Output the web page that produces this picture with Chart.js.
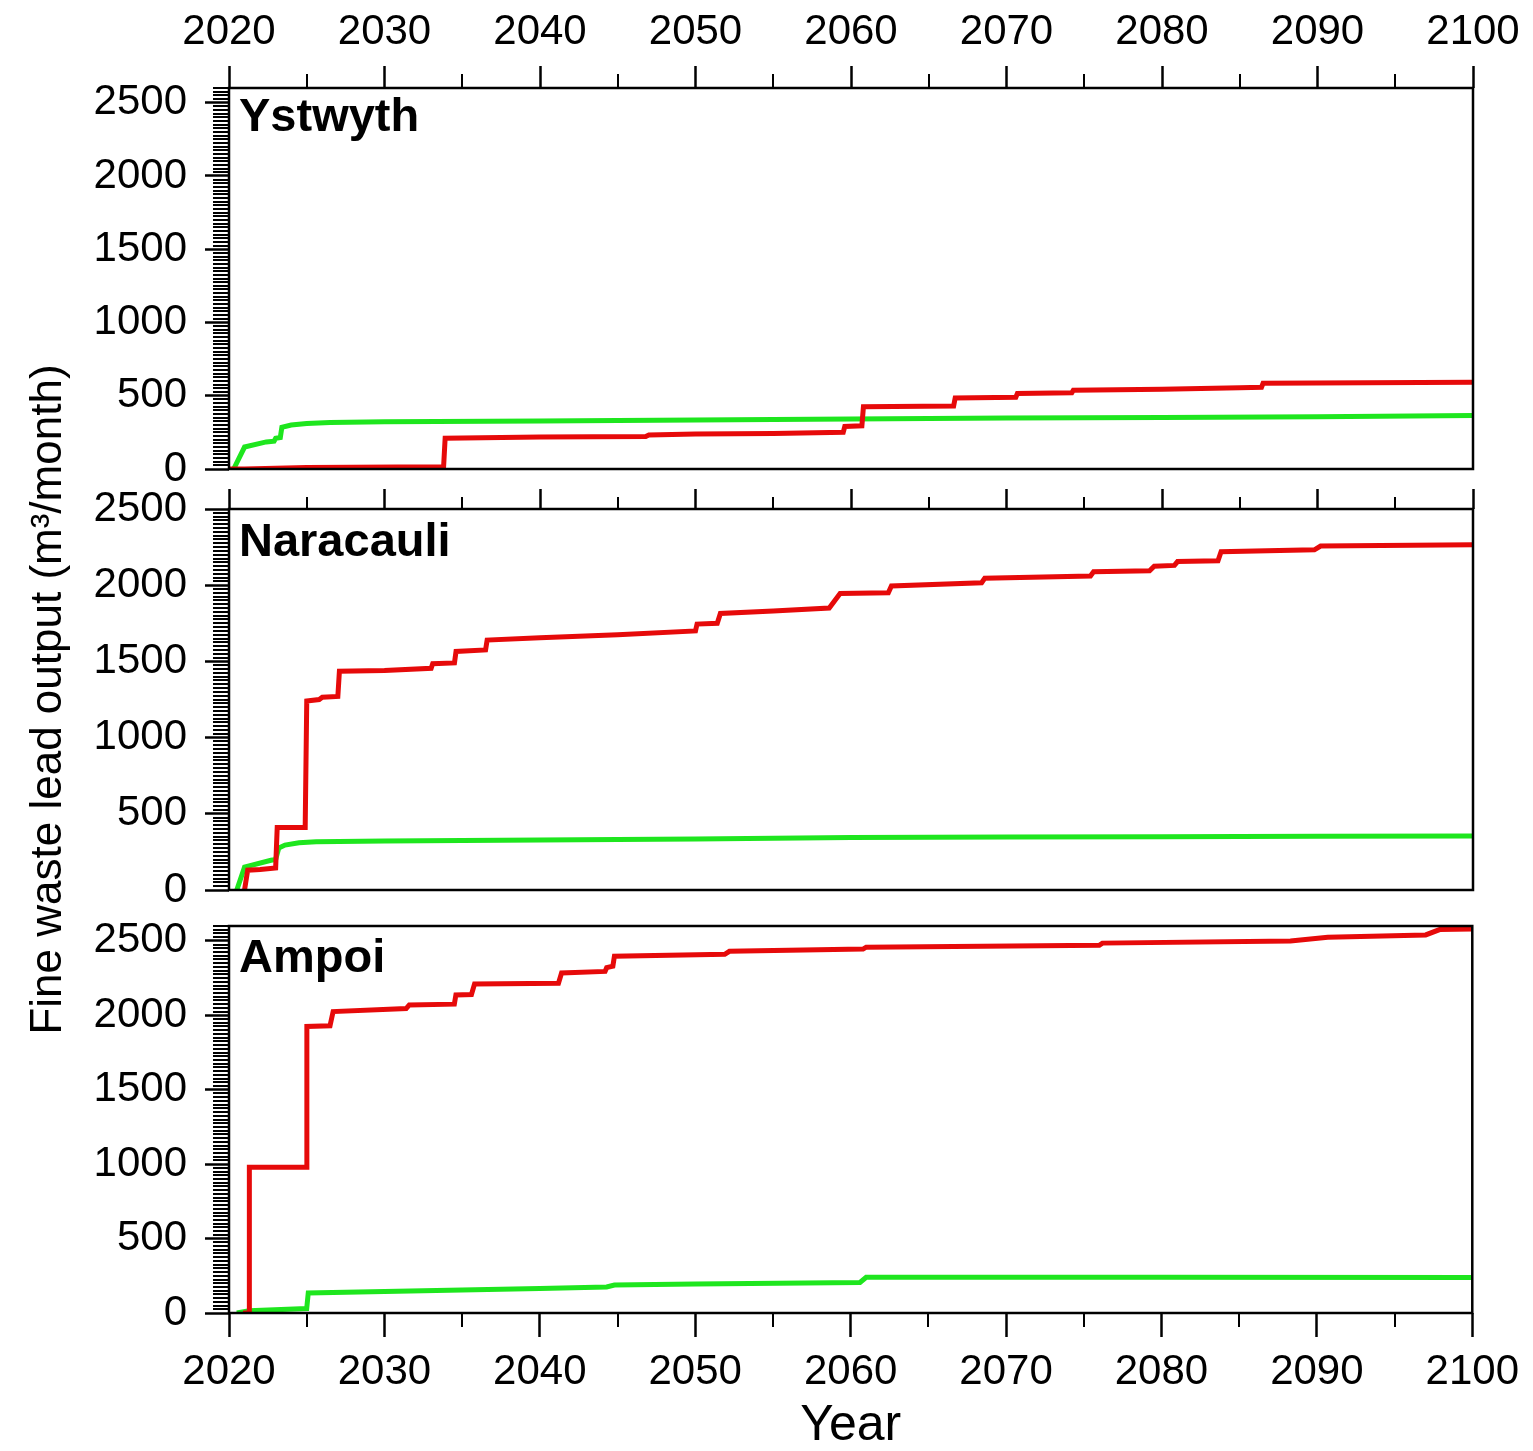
<!DOCTYPE html>
<html><head><meta charset="utf-8">
<script src="https://cdn.jsdelivr.net/npm/chart.js@4.4.1/dist/chart.umd.min.js"></script>
<style>
html,body{margin:0;padding:0;background:#fff;}
#wrap{position:relative;width:1533px;height:1451px;background:#fff;overflow:hidden;}
canvas{position:absolute;left:0;}
</style></head><body>
<div id="wrap">
<canvas id="c1" width="1533" height="520" style="top:0px"></canvas>
<canvas id="c3" width="1533" height="591" style="top:860px"></canvas>
<canvas id="c2" width="1533" height="800" style="top:300px"></canvas>
</div>
<script>
// ---------- tick labels & categories ----------
const panelNames = ['Ystwyth', 'Naracauli', 'Ampoi'];
const xTickValues = [2020, 2030, 2040, 2050, 2060, 2070, 2080, 2090, 2100];
const xTickLabels = ['2020', '2030', '2040', '2050', '2060', '2070', '2080', '2090', '2100'];
const yTickValues = [0, 500, 1000, 1500, 2000, 2500];
const yTickLabels = ['0', '500', '1000', '1500', '2000', '2500'];
const yMaxima = [2600, 2500, 2600];
const yAxisTitle = 'Fine waste lead output (m\u00B3/month)';
const xAxisTitle = 'Year';

// ---------- series (year, value) ----------
const ystwythRedYears  = [2020.0, 2021.0, 2023.0, 2025.0, 2033.8, 2033.9, 2040.0, 2046.8, 2047.0, 2050.0, 2055.0, 2059.5, 2059.6, 2060.7, 2060.8, 2066.6, 2066.7, 2070.6, 2070.7, 2074.2, 2074.3, 2080.0, 2085.0, 2086.4, 2086.5, 2100.0];
const ystwythRedValues = [0, 0, 5, 10, 15, 210, 218, 222, 232, 238, 243, 250, 290, 295, 425, 430, 484, 490, 515, 520, 538, 545, 555, 558, 585, 592];
const ystwythGreenYears  = [2020.3, 2021.0, 2022.4, 2022.9, 2023.0, 2023.3, 2023.4, 2024.0, 2025.0, 2026.5, 2030.0, 2040.0, 2050.0, 2060.0, 2070.0, 2080.0, 2090.0, 2100.0];
const ystwythGreenValues = [0, 150, 185, 190, 210, 215, 285, 300, 310, 318, 322, 328, 335, 342, 348, 352, 357, 365];

const naracauliRedYears  = [2021.0, 2021.2, 2022.0, 2023.0, 2023.1, 2024.9, 2025.0, 2025.8, 2026.0, 2027.0, 2027.1, 2030.0, 2033.0, 2033.1, 2034.5, 2034.6, 2036.5, 2036.6, 2040.0, 2045.0, 2050.0, 2050.1, 2051.4, 2051.6, 2055.0, 2058.6, 2059.3, 2062.4, 2062.6, 2068.4, 2068.6, 2075.4, 2075.6, 2079.2, 2079.5, 2080.8, 2081.0, 2083.6, 2083.8, 2089.8, 2090.2, 2100.0];
const naracauliRedValues = [0, 130, 135, 145, 410, 410, 1240, 1250, 1265, 1270, 1435, 1440, 1455, 1485, 1490, 1565, 1575, 1640, 1655, 1675, 1700, 1745, 1750, 1815, 1830, 1850, 1945, 1950, 1995, 2016, 2045, 2060, 2088, 2095, 2125, 2130, 2155, 2160, 2220, 2232, 2257, 2265];
const naracauliGreenYears  = [2020.5, 2021.0, 2022.7, 2023.0, 2023.2, 2023.6, 2024.5, 2025.6, 2030.0, 2040.0, 2050.0, 2060.0, 2070.0, 2080.0, 2090.0, 2100.0];
const naracauliGreenValues = [0, 150, 195, 200, 275, 295, 310, 317, 322, 328, 335, 345, 348, 350, 353, 355];

const ampoiRedYears  = [2020.9, 2021.3, 2021.31, 2025.0, 2025.01, 2026.5, 2026.7, 2031.4, 2031.6, 2034.5, 2034.6, 2035.6, 2035.8, 2041.2, 2041.4, 2044.2, 2044.3, 2044.7, 2044.8, 2051.9, 2052.2, 2060.8, 2061.0, 2076.0, 2076.2, 2088.3, 2090.7, 2097.0, 2097.9, 2100.0];
const ampoiRedValues = [0, 0, 980, 980, 1925, 1930, 2025, 2045, 2070, 2075, 2137, 2140, 2210, 2215, 2284, 2295, 2320, 2330, 2397, 2410, 2430, 2445, 2458, 2470, 2485, 2500, 2525, 2540, 2576, 2580];
const ampoiGreenYears  = [2020.5, 2021.3, 2025.0, 2025.1, 2030.0, 2040.0, 2044.3, 2044.8, 2050.0, 2060.6, 2061.0, 2080.0, 2100.0];
const ampoiGreenValues = [0, 15, 30, 135, 145, 165, 175, 188, 195, 205, 240, 240, 238];

// ---------- styling ----------
const FONT = '"Liberation Sans", Arial, Helvetica, sans-serif';
const RED = '#e60a0a';
const GREEN = '#1ee61e';

function pts(xs, ys) { return xs.map((x, i) => ({ x: x, y: ys[i] })); }

const framePlugin = {
  id: 'frame',
  afterDatasetsDraw(chart, args, o) {
    const ctx = chart.ctx, a = chart.chartArea;
    const xs = chart.scales.x, ys = chart.scales.y;
    ctx.save();
    ctx.strokeStyle = '#000';
    ctx.lineWidth = 2;
    ctx.beginPath();
    for (let v = ys.min + o.yMinorStep; v <= ys.max + 0.001; v += o.yMinorStep) {
      if (v % 500 === 0) continue;
      const y = Math.round(ys.getPixelForValue(v));
      ctx.moveTo(a.left - o.yMinorLen, y); ctx.lineTo(a.left, y);
    }
    for (let v = xs.min + 5; v < xs.max; v += 10) {
      const x = Math.round(xs.getPixelForValue(v));
      if (o.xSide === 'top') { ctx.moveTo(x, a.top - o.xMinorLen); ctx.lineTo(x, a.top); }
      else { ctx.moveTo(x, a.bottom); ctx.lineTo(x, a.bottom + o.xMinorLen); }
    }
    ctx.stroke();
    ctx.lineWidth = 2.5;
    ctx.strokeRect(a.left, a.top, a.right - a.left, a.bottom - a.top);
    ctx.fillStyle = '#000';
    ctx.font = 'bold 47px ' + FONT;
    ctx.textAlign = 'left';
    ctx.textBaseline = 'alphabetic';
    ctx.fillText(o.name, a.left + 10, a.top + o.nameOffset);
    ctx.restore();
  }
};

function makeChart(id, idx, redX, redY, greenX, greenY, cfg) {
  return new Chart(document.getElementById(id), {
    type: 'line',
    data: {
      datasets: [
        { label: 'red', data: pts(redX, redY), borderColor: RED, borderWidth: 5, pointRadius: 0, fill: false, tension: 0 },
        { label: 'green', data: pts(greenX, greenY), borderColor: GREEN, borderWidth: 5, pointRadius: 0, fill: false, tension: 0 }
      ]
    },
    options: {
      responsive: false, animation: false, devicePixelRatio: 1,
      layout: { padding: { left: 0, right: 60, top: cfg.padTop, bottom: cfg.padBottom } },
      plugins: {
        legend: { display: false }, tooltip: { enabled: false },
        frame: { name: panelNames[idx], nameOffset: cfg.nameOffset, yMinorStep: 25, yMinorLen: 16, xMinorLen: cfg.xMinorLen, xSide: cfg.xPos }
      },
      scales: {
        x: {
          type: 'linear', position: cfg.xPos, min: 2020, max: 2100,
          afterBuildTicks: s => { s.ticks = xTickValues.map(v => ({ value: v })); },
          afterFit: s => { s.height = cfg.xHeight; },
          ticks: {
            display: cfg.xLabels, autoSkip: false, maxRotation: 0, minRotation: 0,
            callback: v => xTickLabels[xTickValues.indexOf(v)],
            font: { family: FONT, size: 42, lineHeight: 1 }, color: '#000', padding: cfg.xPad
          },
          grid: { drawOnChartArea: false, drawTicks: true, tickLength: cfg.xMajorLen, tickWidth: 2.5, tickColor: '#000' },
          border: { display: false },
          title: cfg.xTitle ? { display: true, text: xAxisTitle, color: '#000', font: { family: FONT, size: 50, lineHeight: 1 }, padding: { top: 0, bottom: 0 } } : { display: false }
        },
        y: {
          type: 'linear', position: 'left', min: 0, max: yMaxima[idx],
          afterBuildTicks: s => { s.ticks = yTickValues.map(v => ({ value: v })); },
          afterFit: s => { s.width = 229; },
          ticks: {
            autoSkip: false, callback: v => yTickLabels[yTickValues.indexOf(v)],
            font: { family: FONT, size: 42, lineHeight: 1 }, color: '#000', padding: 18
          },
          grid: { drawOnChartArea: false, drawTicks: true, tickLength: 24, tickWidth: 2.5, tickColor: '#000' },
          border: { display: false },
          title: cfg.yTitle ? { display: true, text: yAxisTitle, color: '#000', font: { family: FONT, size: 44, lineHeight: 1 }, padding: { top: 27, bottom: 0 } } : { display: false }
        }
      }
    },
    plugins: [framePlugin]
  });
}

makeChart('c1', 0, ystwythRedYears, ystwythRedValues, ystwythGreenYears, ystwythGreenValues,
  { padTop: 0, padBottom: 51, xPos: 'top', xHeight: 88, xLabels: true, xPad: 13, xMajorLen: 22, xMinorLen: 14, xTitle: false, yTitle: false, nameOffset: 43 });
makeChart('c2', 1, naracauliRedYears, naracauliRedValues, naracauliGreenYears, naracauliGreenValues,
  { padTop: 170, padBottom: 210, xPos: 'top', xHeight: 39, xLabels: false, xPad: 0, xMajorLen: 20, xMinorLen: 12, xTitle: false, yTitle: true, nameOffset: 47 });
makeChart('c3', 2, ampoiRedYears, ampoiRedValues, ampoiGreenYears, ampoiGreenValues,
  { padTop: 66, padBottom: 0, xPos: 'bottom', xHeight: 138, xLabels: true, xPad: 14, xMajorLen: 24, xMinorLen: 14, xTitle: true, yTitle: false, nameOffset: 46 });
</script>
</body></html>
